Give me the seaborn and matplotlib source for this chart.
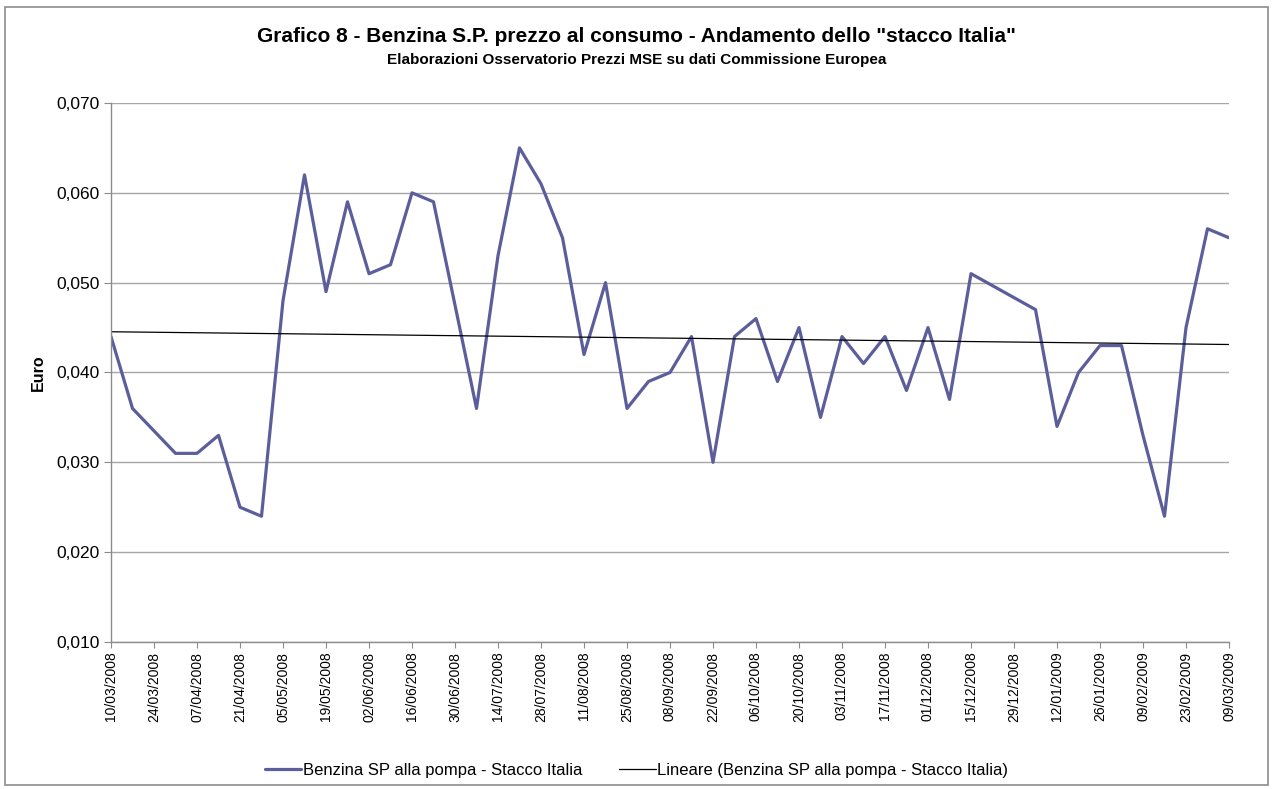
import matplotlib
matplotlib.use("Agg")
import matplotlib.pyplot as plt
import matplotlib.ticker as mticker
from matplotlib.patches import Rectangle
import seaborn as sns
import pandas as pd
import numpy as np

# weekly dates, 10/03/2008 .. 09/03/2009 (gaps = weeks with no data)
dates = pd.date_range("2008-03-10", "2009-03-09", freq="7D")
stacco = [0.044, 0.036, np.nan, 0.031, 0.031, 0.033, 0.025, 0.024, 0.048, 0.062,
          0.049, 0.059, 0.051, 0.052, 0.060, 0.059, 0.0475, 0.036, 0.053, 0.065,
          0.061, 0.055, 0.042, 0.050, 0.036, 0.039, 0.040, 0.044, 0.030, 0.044,
          0.046, 0.039, 0.045, 0.035, 0.044, 0.041, 0.044, 0.038, 0.045, 0.037,
          0.051, np.nan, np.nan, 0.047, 0.034, 0.040, 0.043, 0.043, 0.033, 0.024,
          0.045, 0.056, 0.055]
yticks = [0.010, 0.020, 0.030, 0.040, 0.050, 0.060, 0.070]

df = pd.DataFrame({"idx": np.arange(len(dates)), "value": stacco})
valid = df.dropna()
coef = np.polyfit(valid["idx"], valid["value"], 1)
df["trend"] = np.polyval(coef, df["idx"])

sns.set_style("white")
plt.rcParams["font.family"] = ["Liberation Sans", "DejaVu Sans"]
plt.rcParams["text.color"] = "black"
plt.rcParams["axes.labelcolor"] = "black"

fig = plt.figure(figsize=(12.73, 7.89), dpi=100)
fig.patches.append(Rectangle((5 / 1273, 1 - 785 / 789), 1263 / 1273, 778 / 789,
                             transform=fig.transFigure, fill=False,
                             edgecolor="#8c8c8c", linewidth=1.2))
ax = fig.add_axes([111 / 1273, 1 - 642 / 789, 1118 / 1273, 539 / 789])

sns.lineplot(data=valid, x="idx", y="value", ax=ax, color="#5b5e9b", linewidth=2.3,
             label="Benzina SP alla pompa - Stacco Italia")
sns.lineplot(data=df, x="idx", y="trend", ax=ax, color="black", linewidth=0.9,
             label="Lineare (Benzina SP alla pompa - Stacco Italia)")

ax.set_xlim(0, len(dates) - 1)
ax.set_ylim(0.010, 0.070)
ax.set_yticks(yticks)
ax.yaxis.set_major_formatter(mticker.FuncFormatter(lambda v, p: f"{v:.3f}".replace(".", ",")))
ax.yaxis.grid(True, color="#a6a6a6", linewidth=1)
ax.set_axisbelow(True)

xt = np.arange(0, len(dates), 2)
ax.set_xticks(xt)
ax.set_xticklabels([dates[i].strftime("%d/%m/%Y") for i in xt], rotation=90, fontsize=10)
ax.tick_params(axis="y", labelsize=12.5, length=5, color="#8c8c8c", labelcolor="black",
               direction="out", left=True, pad=3)
ax.tick_params(axis="x", length=4, color="#8c8c8c", labelcolor="black",
               direction="out", bottom=True, pad=3)

for s in ["top", "right"]:
    ax.spines[s].set_visible(False)
for s in ["left", "bottom"]:
    ax.spines[s].set_color("#8c8c8c")
    ax.spines[s].set_linewidth(1)

ax.set_xlabel("")
ax.set_ylabel("Euro", fontsize=11.5, fontweight="bold", labelpad=8)

fig.text(0.5, 1 - 37 / 789, 'Grafico 8 - Benzina S.P. prezzo al consumo - Andamento dello "stacco Italia"',
         ha="center", va="center", fontsize=15, fontweight="bold")
fig.text(0.5, 1 - 60 / 789, "Elaborazioni Osservatorio Prezzi MSE su dati Commissione Europea",
         ha="center", va="center", fontsize=11, fontweight="bold")

ax.legend(loc="center", bbox_to_anchor=(0.5, 1 - 770 / 789), bbox_transform=fig.transFigure,
          ncol=2, frameon=False, fontsize=12, handlelength=2.2, handletextpad=0.1,
          columnspacing=2.2)

fig.savefig("out.png", dpi=100)
